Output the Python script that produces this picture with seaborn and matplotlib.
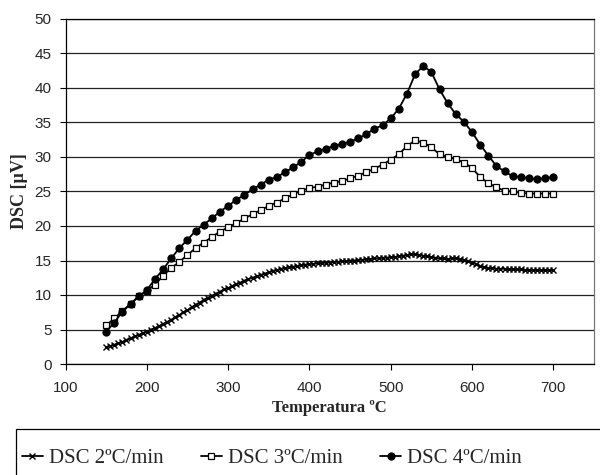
import numpy as np
import pandas as pd
import matplotlib
matplotlib.use("Agg")
import matplotlib.pyplot as plt
import seaborn as sns
from matplotlib.patches import Rectangle

# temperatures (ºC)
temp_2 = np.arange(150, 705, 5)    # 2ºC/min logged every 5ºC
temp_34 = np.arange(150, 710, 10)  # 3 and 4ºC/min every 10ºC

dsc_2 = [2.4, 2.6, 2.8, 3.0, 3.2, 3.5, 3.7, 4.0, 4.2, 4.5,
         4.7, 5.0, 5.2, 5.5, 5.8, 6.1, 6.4, 6.8, 7.1, 7.5,
         7.8, 8.2, 8.6, 8.9, 9.3, 9.6, 9.9, 10.2, 10.5, 10.8,
         11.0, 11.3, 11.6, 11.8, 12.1, 12.3, 12.5, 12.7, 12.9, 13.1,
         13.3, 13.5, 13.6, 13.8, 13.9, 14.0, 14.1, 14.2, 14.3, 14.4,
         14.5, 14.5, 14.6, 14.6, 14.7, 14.7, 14.8, 14.8, 14.9, 14.9,
         15.0, 15.0, 15.1, 15.1, 15.2, 15.2, 15.3, 15.3, 15.4, 15.4,
         15.5, 15.5, 15.6, 15.7, 15.8, 15.9, 15.9, 15.8, 15.7, 15.6,
         15.5, 15.4, 15.3, 15.3, 15.2, 15.3, 15.3, 15.2, 15.1, 14.9,
         14.7, 14.5, 14.2, 14.0, 13.9, 13.9, 13.8, 13.8, 13.8, 13.7,
         13.7, 13.7, 13.7, 13.6, 13.6, 13.6, 13.6, 13.6, 13.6, 13.6,
         13.6]

dsc_3 = [5.6, 6.6, 7.7, 8.7, 9.8, 10.6, 11.5, 12.8, 13.9, 14.8,
         15.8, 16.8, 17.6, 18.4, 19.2, 19.8, 20.4, 21.1, 21.7, 22.3,
         22.9, 23.4, 24.0, 24.6, 25.1, 25.5, 25.7, 26.0, 26.3, 26.5,
         26.9, 27.3, 27.8, 28.3, 28.9, 29.6, 30.4, 31.6, 32.4, 32.1,
         31.4, 30.4, 30.0, 29.7, 29.2, 28.4, 27.1, 26.2, 25.6, 25.1,
         25.0, 24.8, 24.7, 24.7, 24.7, 24.7]

dsc_4 = [4.7, 6.0, 7.6, 8.7, 9.8, 10.7, 12.3, 13.7, 15.3, 16.8,
         18.0, 19.3, 20.2, 21.1, 22.1, 22.9, 23.8, 24.5, 25.3, 26.0,
         26.7, 27.1, 27.8, 28.5, 29.3, 30.3, 30.8, 31.2, 31.6, 31.9,
         32.2, 32.7, 33.3, 34.1, 34.6, 35.6, 37.0, 39.2, 42.0, 43.2,
         42.3, 39.8, 37.8, 36.2, 35.1, 33.6, 31.8, 30.2, 28.7, 27.9,
         27.2, 27.1, 26.9, 26.8, 26.9, 27.1]

labels = ["DSC 2ºC/min", "DSC 3ºC/min", "DSC 4ºC/min"]

df2 = pd.DataFrame({"temp": temp_2, "dsc": dsc_2})
df3 = pd.DataFrame({"temp": temp_34, "dsc": dsc_3})
df4 = pd.DataFrame({"temp": temp_34, "dsc": dsc_4})

sns.set_style("ticks")
plt.rcParams["font.family"] = ["Liberation Sans", "DejaVu Sans"]
serif = ["Liberation Serif", "DejaVu Serif"]

fig = plt.figure(figsize=(6, 4.75), dpi=100)
ax = fig.add_axes([65.5 / 600, 1 - 364 / 475, (594 - 65.5) / 600, (364 - 19) / 475])

# seaborn paints marker edges white by default -> force black
sns.lineplot(data=df2, x="temp", y="dsc", ax=ax, color="black", lw=1.3,
             marker="x", markersize=5, markeredgewidth=1.0,
             markeredgecolor="black", label=labels[0])
sns.lineplot(data=df3, x="temp", y="dsc", ax=ax, color="black", lw=1.3,
             marker="s", markersize=4.5, markerfacecolor="white",
             markeredgecolor="black", markeredgewidth=0.9, label=labels[1])
sns.lineplot(data=df4, x="temp", y="dsc", ax=ax, color="black", lw=1.3,
             marker="o", markersize=5.2, markerfacecolor="black",
             markeredgecolor="black", label=labels[2])

ax.set_xlim(100, 750)
ax.set_ylim(0, 50)
ax.set_xticks(np.arange(100, 800, 100))
ax.set_yticks(np.arange(0, 55, 5))
ax.yaxis.grid(True, color="#222222", lw=0.9)
ax.set_axisbelow(True)
for s in ax.spines.values():
    s.set_color("black")
    s.set_linewidth(0.9)
ax.spines["right"].set_color("#777777")
ax.tick_params(axis="both", labelsize=11, length=4, width=0.8, color="black")
ax.tick_params(axis="y", pad=6)
ax.tick_params(axis="x", pad=8)

ax.set_xlabel("Temperatura ºC", family=serif, weight="bold", fontsize=12)
ax.set_ylabel("DSC [µV]", family=serif, weight="bold", fontsize=13)
ax.xaxis.set_label_coords(0.5, -(408 - 364) / 345, transform=ax.transAxes)
ax.yaxis.set_label_coords(-(65.5 - 20) / 528.5, 0.5, transform=ax.transAxes)
ax.xaxis.label.set_va("center")
ax.yaxis.label.set_va("center")

handles, labs = ax.get_legend_handles_labels()
ax.get_legend().remove()
fig.legend(handles, labs, loc="center left", bbox_to_anchor=(0.005, 1 - 458 / 475),
           ncol=3, frameon=False, handlelength=1.0, handletextpad=0.3,
           columnspacing=1.8, prop={"family": serif, "size": 15})
fig.patches.append(Rectangle((16 / 600, -0.2), 1.0, 0.2 + (1 - 429 / 475),
                             transform=fig.transFigure, fill=False,
                             edgecolor="black", lw=0.9))

fig.savefig("out.png", dpi=100)
